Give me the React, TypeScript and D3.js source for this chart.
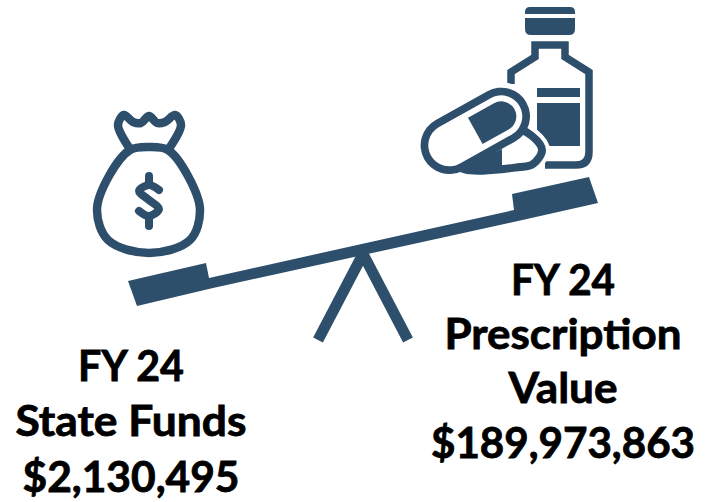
import React, { useEffect, useRef } from 'react';
import * as d3 from 'd3';

const leftLines = ['FY 24', 'State Funds', '$2,130,495'];
const rightLines = ['FY 24', 'Prescription', 'Value', '$189,973,863'];
const leftBaselines = [381, 436, 492];
const rightBaselines = [295, 349, 403, 458];
const leftWidths = [106, 231, 217];
const rightWidths = [104, 237, 109, 264];

const NAVY = '#2d4f6c';
const FONT = 'Lato, sans-serif';

const beamOutline: [number, number][] = [
  [128, 281], [206, 263], [209, 278], [514, 210], [512, 194], [589, 177],
  [598, 203], [518, 221], [213, 288], [137, 306],
];
const legLeft: [number, number][] = [[363, 254], [318, 340]];
const legRight: [number, number][] = [[363, 254], [408, 340]];

const bagBody: [number, number][] = [
  [130, 150], [149, 147], [168, 150], [188, 176], [200, 210], [190, 240], [149, 253],
  [108, 240], [97, 210], [109, 176],
];
const bagNeck: [number, number][] = [
  [130, 149], [118, 125], [124, 115], [133, 122], [141, 123], [149, 116], [157, 123],
  [165, 122], [175, 115], [181, 125], [168, 150],
];
const dollarS: [number, number][] = [
  [159, 190], [149, 185], [139, 191], [149, 200], [159, 209], [149, 216], [139, 211],
];

const bottle: [number, number][] = [
  [511, 84], [511, 72], [535, 57], [535, 45], [565, 45], [565, 57], [589, 72], [589, 152],
];
const tablet: [number, number][] = [
  [514, 128], [532, 136], [542, 150], [533, 164], [520, 167], [460, 167], [470, 140],
];

export default function App() {
  const ref = useRef<SVGSVGElement>(null);

  useEffect(() => {
    const svg = d3.select(ref.current);
    svg.selectAll('*').remove();
    const line = d3.line();
    const smoothClosed = d3.line().curve(d3.curveCatmullRomClosed.alpha(0.5));
    const smooth = d3.line().curve(d3.curveCatmullRom.alpha(0.5));

    // seesaw
    svg.append('path').attr('d', line(beamOutline) + 'Z').attr('fill', NAVY);
    [legLeft, legRight].forEach(l =>
      svg.append('path').attr('d', line(l)).attr('fill', 'none')
        .attr('stroke', NAVY).attr('stroke-width', 11));

    // money bag
    const bag = svg.append('g').attr('fill', 'none').attr('stroke', NAVY);
    bag.append('path').attr('d', smoothClosed(bagBody)).attr('stroke-width', 8.5);
    bag.append('path').attr('d', smooth(bagNeck)).attr('stroke-width', 8.5).attr('stroke-linejoin', 'round');
    bag.append('path').attr('d', smooth(dollarS)).attr('stroke-width', 8).attr('stroke-linecap', 'round');
    bag.append('path').attr('d', 'M149,176V183M149,218V226').attr('stroke-width', 8).attr('stroke-linecap', 'round');

    // bottle
    const b = svg.append('g');
    b.append('path').attr('d', 'M525,14V12Q525,7 530,7H570Q575,7 575,12V14Z').attr('fill', NAVY);
    b.append('path').attr('d', 'M525,18H575V29Q575,35 569,35H531Q525,35 525,29Z').attr('fill', NAVY);
    const bp = d3.path();
    bottle.forEach((p, i) => (i ? bp.lineTo(p[0], p[1]) : bp.moveTo(p[0], p[1])));
    bp.quadraticCurveTo(589, 165, 576, 165);
    bp.lineTo(545, 165);
    b.append('path').attr('d', bp.toString()).attr('fill', 'none').attr('stroke', NAVY)
      .attr('stroke-width', 7.5).attr('stroke-linejoin', 'miter');
    b.append('rect').attr('x', 537).attr('y', 88).attr('width', 43).attr('height', 9).attr('fill', NAVY);
    b.append('rect').attr('x', 537).attr('y', 103).attr('width', 43).attr('height', 43).attr('fill', NAVY);

    // capsule sits on top of the tablet, both knocked out of the bottle with white halos
    const capsule = (sel: any, r: number, fill: string) =>
      sel.append('rect')
        .attr('x', -r).attr('y', -r).attr('rx', r).attr('ry', r)
        .attr('width', 59.5 + 2 * r).attr('height', 2 * r)
        .attr('transform', 'translate(449.3,145.3) rotate(-29.1)')
        .attr('fill', fill);

    const tabletD = smoothClosed(tablet);
    svg.append('path').attr('d', tabletD).attr('fill', '#fff').attr('stroke', '#fff').attr('stroke-width', 16);
    capsule(svg, 34, '#fff');
    svg.append('path').attr('d', tabletD).attr('fill', '#fff').attr('stroke', NAVY).attr('stroke-width', 8);
    svg.append('path').attr('d', 'M502,149V167H462Z').attr('fill', NAVY);
    capsule(svg, 28.7, NAVY);
    capsule(svg, 21, '#fff');
    svg.append('path')
      .attr('d', 'M29.75,-15H59.5A15,15 0 0 1 59.5,15H29.75Z')
      .attr('transform', 'translate(449.3,145.3) rotate(-29.1)')
      .attr('fill', NAVY);

    // labels
    const drawText = (lines: string[], ys: number[], widths: number[], cx: number) =>
      lines.forEach((t, i) =>
        svg.append('text').text(t)
          .attr('x', cx).attr('y', ys[i]).attr('text-anchor', 'middle')
          .attr('font-family', FONT).attr('font-weight', 700).attr('font-size', 42)
          .attr('textLength', widths[i]).attr('lengthAdjust', 'spacingAndGlyphs')
          .attr('stroke', '#000').attr('stroke-width', 0.8)
          .attr('fill', '#000'));
    drawText(leftLines, leftBaselines, leftWidths, 131);
    drawText(rightLines, rightBaselines, rightWidths, 563);
  }, []);

  return (
    <svg ref={ref} width={714} height={502}
      style={{ position: 'absolute', left: 0, top: 0, background: '#fff' }} />
  );
}
